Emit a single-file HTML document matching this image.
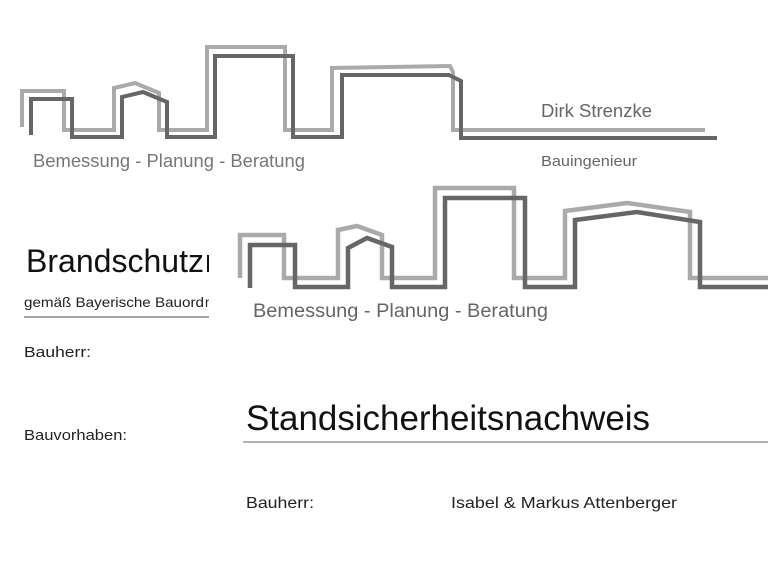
<!DOCTYPE html>
<html><head><meta charset="utf-8"><style>
html,body{margin:0;padding:0;background:#fff;width:768px;height:576px;overflow:hidden}
svg text{font-family:"Liberation Sans",sans-serif}
</style></head><body>
<svg width="768" height="576" viewBox="0 0 768 576" xmlns="http://www.w3.org/2000/svg">
<!-- top logo -->
<g fill="none" stroke-width="4" stroke-linejoin="miter">
<polyline stroke="#aaa" points="22,127 22,91 64,91 64,130 114,130 114,88 135,83 159,93 159,130 207,130 207,47 285,47 285,130 332,130 332,68 450,66 453,72 453,130 705,130"/>
<polyline stroke="#666" points="31,135 31,99 72,99 72,137 122,137 122,97 143,92 167,102 167,137 215,137 215,56 293,56 293,137 342,137 342,75 449,75 461,81 461,138 717,138"/>
</g>
<text x="33" y="167" font-size="18" fill="#777" textLength="272" lengthAdjust="spacingAndGlyphs">Bemessung - Planung - Beratung</text>
<text x="541" y="117" font-size="18" fill="#666" textLength="111" lengthAdjust="spacingAndGlyphs">Dirk Strenzke</text>
<text x="541" y="166" font-size="15" fill="#666" textLength="96" lengthAdjust="spacingAndGlyphs">Bauingenieur</text>
<!-- left document -->
<text x="26" y="272" font-size="32" fill="#111" textLength="178" lengthAdjust="spacingAndGlyphs">Brandschutz</text>
<text x="205" y="272" font-size="32" fill="#111" textLength="120" lengthAdjust="spacingAndGlyphs">nachweis</text>
<text x="24" y="307" font-size="14" fill="#222" textLength="180" lengthAdjust="spacingAndGlyphs">gemäß Bayerische Bauord</text>
<text x="205" y="307" font-size="14" fill="#222" textLength="30" lengthAdjust="spacingAndGlyphs">nung</text>
<line x1="24" y1="317" x2="209" y2="317" stroke="#888" stroke-width="1.5"/>
<text x="24" y="357" font-size="15" fill="#222" textLength="67" lengthAdjust="spacingAndGlyphs">Bauherr:</text>
<text x="24" y="440" font-size="15" fill="#222" textLength="103" lengthAdjust="spacingAndGlyphs">Bauvorhaben:</text>
<!-- overlay page -->
<rect x="209" y="174" width="559" height="402" fill="#fff"/>
<g fill="none" stroke-width="4.5">
<polyline stroke="#aaa" points="240,278 240,235 284,235 284,278 338,278 338,230 357,226 382,235 382,278 435,278 435,188 514,188 514,278 565,278 565,211 627,203 690,212 690,278 768,278"/>
<polyline stroke="#666" points="250,288 250,245 295,245 295,287 348,287 348,248 367,238 392,247 392,287 445,287 445,198 525,198 525,287 575,287 575,220 637,212 700,222 700,287 768,287"/>
</g>
<text x="253" y="317" font-size="19" fill="#666" textLength="295" lengthAdjust="spacingAndGlyphs">Bemessung - Planung - Beratung</text>
<text x="246" y="430" font-size="35" fill="#111" textLength="404" lengthAdjust="spacingAndGlyphs">Standsicherheitsnachweis</text>
<line x1="243" y1="442" x2="768" y2="442" stroke="#999" stroke-width="1.5"/>
<text x="246" y="508" font-size="16" fill="#222" textLength="68" lengthAdjust="spacingAndGlyphs">Bauherr:</text>
<text x="451" y="508" font-size="16" fill="#222" textLength="226" lengthAdjust="spacingAndGlyphs">Isabel &amp; Markus Attenberger</text>
</svg>
</body></html>
